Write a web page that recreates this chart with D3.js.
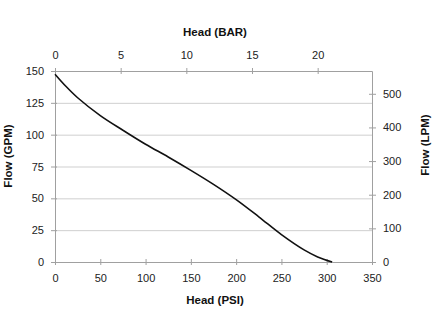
<!DOCTYPE html>
<html>
<head>
<meta charset="utf-8">
<script src="https://cdn.jsdelivr.net/npm/d3@7"></script>
<style>
body{margin:0;background:#fff;}
svg{display:block;font-family:"Liberation Sans",Arial,sans-serif;}
</style>
</head>
<body>
<svg id="c" width="434" height="335"></svg>
<script>
// Data
const headPsi = [0, 12, 25, 50, 75, 100, 125, 150, 175, 200, 225, 250, 275, 290, 306];
const flowGpm = [147.5, 138, 129, 115, 103.5, 92.5, 82.5, 72, 61, 49, 35.5, 21.5, 9.5, 4, 0];
const psiTicks = [0, 50, 100, 150, 200, 250, 300, 350];
const barTicks = [0, 5, 10, 15, 20];
const gpmTicks = [0, 25, 50, 75, 100, 125, 150];
const lpmTicks = [0, 100, 200, 300, 400, 500];
const PSI_PER_BAR = 14.5;
const LPM_PER_GPM = 3.785;

const L = 55, R = 372, T = 71, B = 262;
const svg = d3.select("#c");

const x = d3.scaleLinear().domain([0, 350]).range([L, R]);
const xBar = d3.scaleLinear().domain([0, 350 / PSI_PER_BAR]).range([L, R]);
const y = d3.scaleLinear().domain([0, 150]).range([B, T]);
const yL = d3.scaleLinear().domain([0, 150 * LPM_PER_GPM]).range([B, T]);

const axisCol = "#a0a0a0";
const gridCol = "#cfcfcf";

// gridlines
svg.append("g").selectAll("line").data(gpmTicks.filter(d => d > 0)).join("line")
  .attr("x1", L).attr("x2", R).attr("y1", d => y(d) + 0.5).attr("y2", d => y(d) + 0.5)
  .attr("stroke", gridCol).attr("stroke-width", 1);

function styleAxis(g) {
  g.selectAll(".domain").attr("stroke", axisCol);
  g.selectAll(".tick line").attr("stroke", axisCol);
  g.selectAll(".tick text").attr("fill", "#222").attr("font-size", 11);
}

// bottom
const gb = svg.append("g").attr("transform", `translate(0,${B})`)
  .call(d3.axisBottom(x).tickValues(psiTicks).tickSize(3).tickSizeOuter(0).tickPadding(9));
gb.selectAll(".tick line").attr("y1", -3);
styleAxis(gb);

// top
const gt = svg.append("g").attr("transform", `translate(0,${T})`)
  .call(d3.axisTop(xBar).tickValues(barTicks).tickSize(3).tickSizeOuter(0).tickPadding(9));
gt.selectAll(".tick line").attr("y1", 3);
styleAxis(gt);

// left
const gl = svg.append("g").attr("transform", `translate(${L},0)`)
  .call(d3.axisLeft(y).tickValues(gpmTicks).tickSize(4).tickSizeOuter(0).tickPadding(7));
gl.selectAll(".tick line").attr("x1", 2);
styleAxis(gl);

// right
const gr = svg.append("g").attr("transform", `translate(${R},0)`)
  .call(d3.axisRight(yL).tickValues(lpmTicks).tickSize(4).tickSizeOuter(0).tickPadding(7));
gr.selectAll(".tick line").attr("x1", -3);
styleAxis(gr);

// curve
const pts = headPsi.map((h, i) => [h, flowGpm[i]]);
svg.append("path").datum(pts)
  .attr("fill", "none").attr("stroke", "#111").attr("stroke-width", 1.6)
  .attr("d", d3.line().x(d => x(d[0])).y(d => y(d[1])).curve(d3.curveCatmullRom.alpha(0.5)));

// axis titles
const tf = (s) => s.attr("font-size", 11.5).attr("font-weight", "bold").attr("fill", "#111").attr("text-anchor", "middle");
svg.append("text").attr("x", 215).attr("y", 36).text("Head (BAR)").call(tf);
svg.append("text").attr("x", 215).attr("y", 304).text("Head (PSI)").call(tf);
svg.append("text").attr("transform", "translate(12,156) rotate(-90)").text("Flow (GPM)").call(tf);
svg.append("text").attr("transform", "translate(429,145) rotate(-90)").text("Flow (LPM)").call(tf);
</script>
</body>
</html>
